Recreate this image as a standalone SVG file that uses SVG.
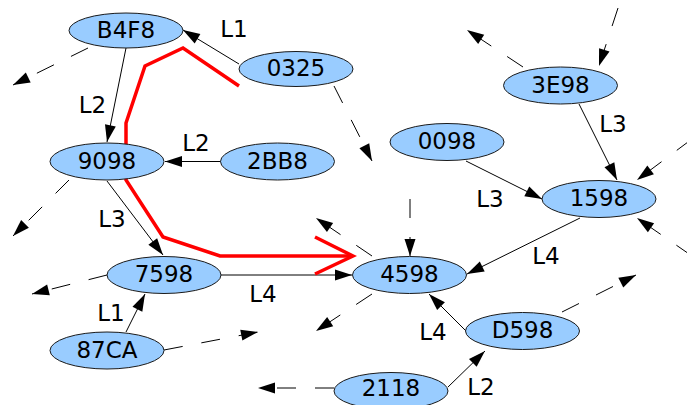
<svg xmlns="http://www.w3.org/2000/svg" width="687" height="405" viewBox="0 0 687 405">
<style>
.node ellipse{fill:#99ccff;stroke:#1a1a1a;stroke-width:1}
text{font-family:"DejaVu Sans",sans-serif;font-size:23px;fill:#000;text-anchor:middle}
.e{fill:none;stroke:#000;stroke-width:1;marker-end:url(#ah)}
.d{stroke-dasharray:19 19}
.red{fill:none;stroke:#ff0000;stroke-width:3.5;stroke-linejoin:miter}
</style>
<defs>
<marker id="ah" markerUnits="userSpaceOnUse" markerWidth="18" markerHeight="12" refX="17" refY="5.5" orient="auto" overflow="visible">
<path d="M0,0 L17,5.5 L0,11 z" fill="#000"/>
</marker>
</defs>
<g id="connectors">
<path class="e" d="M239,64 L183,30"/>
<path class="e" d="M126,48 L107,142"/>
<path class="e" d="M221,161.5 L165,161.5"/>
<path class="e" d="M107,181 L163,255"/>
<path class="e" d="M126,332 L145,294"/>
<path class="e" d="M221,275 L352,275"/>
<path class="e" d="M466,161 L542,199"/>
<path class="e" d="M579,104 L617,180"/>
<path class="e" d="M580,218 L467,274"/>
<path class="e" d="M466,331 L429,294"/>
<path class="e" d="M448,387 L485,351"/>
<path class="e d" d="M88,48 L13,85"/>
<path class="e d" d="M334,86 L372,161"/>
<path class="e d" d="M523,67 L467,30"/>
<path class="e d" d="M618,8 L599,66"/>
<path class="e d" d="M692,139 L637,180"/>
<path class="e d" d="M692,256 L637,218"/>
<path class="e d" d="M562,312 L636,275"/>
<path class="e d" d="M69,180 L13,236"/>
<path class="e d" d="M107,275 L32,294"/>
<path class="e d" d="M164,350 L258,332"/>
<path class="e d" d="M372,256 L316,218"/>
<path class="e d" d="M372,294 L316,331"/>
<path class="e d" d="M410,199 L410,256"/>
<path class="e d" d="M334,388 L258,388"/>
<text x="234" y="37">L1</text>
<text x="92.5" y="113">L2</text>
<text x="196" y="151">L2</text>
<text x="112" y="227">L3</text>
<text x="111" y="321">L1</text>
<text x="263" y="302">L4</text>
<text x="613" y="132">L3</text>
<text x="490" y="207">L3</text>
<text x="546" y="264">L4</text>
<text x="433" y="340">L4</text>
<text x="481" y="395">L2</text>
</g>
<g id="path-highlight">
<polyline class="red" points="239,86 183,48 145,66 126,123 126,180 163,237 220,256 352,256"/>
<polyline class="red" points="315,237 353,256 315,274"/>
</g>
<g id="n-B4F8" class="node"><ellipse cx="126" cy="30.5" rx="57" ry="17.5"/><text x="126" y="37.5">B4F8</text></g>
<g id="n-0325" class="node"><ellipse cx="296" cy="69" rx="57" ry="17.5"/><text x="296" y="76">0325</text></g>
<g id="n-9098" class="node"><ellipse cx="107" cy="161.5" rx="57" ry="18.5"/><text x="107" y="168.5">9098</text></g>
<g id="n-2BB8" class="node"><ellipse cx="277.5" cy="161.5" rx="57" ry="18.5"/><text x="277.5" y="168.5">2BB8</text></g>
<g id="n-3E98" class="node"><ellipse cx="560.5" cy="85.5" rx="57" ry="18.5"/><text x="560.5" y="92.5">3E98</text></g>
<g id="n-0098" class="node"><ellipse cx="447" cy="142" rx="57" ry="18.5"/><text x="447" y="149">0098</text></g>
<g id="n-1598" class="node"><ellipse cx="599" cy="199" rx="57" ry="18.5"/><text x="599" y="206">1598</text></g>
<g id="n-7598" class="node"><ellipse cx="164" cy="275" rx="57" ry="18.5"/><text x="164" y="282">7598</text></g>
<g id="n-4598" class="node"><ellipse cx="409.5" cy="275" rx="57" ry="18.5"/><text x="409.5" y="282">4598</text></g>
<g id="n-87CA" class="node"><ellipse cx="107" cy="350.5" rx="57" ry="18.5"/><text x="107" y="357.5">87CA</text></g>
<g id="n-D598" class="node"><ellipse cx="522.5" cy="331" rx="57" ry="18.5"/><text x="522.5" y="338">D598</text></g>
<g id="n-2118" class="node"><ellipse cx="391" cy="391" rx="57" ry="18.5"/><text x="391" y="396">2118</text></g>
</svg>
